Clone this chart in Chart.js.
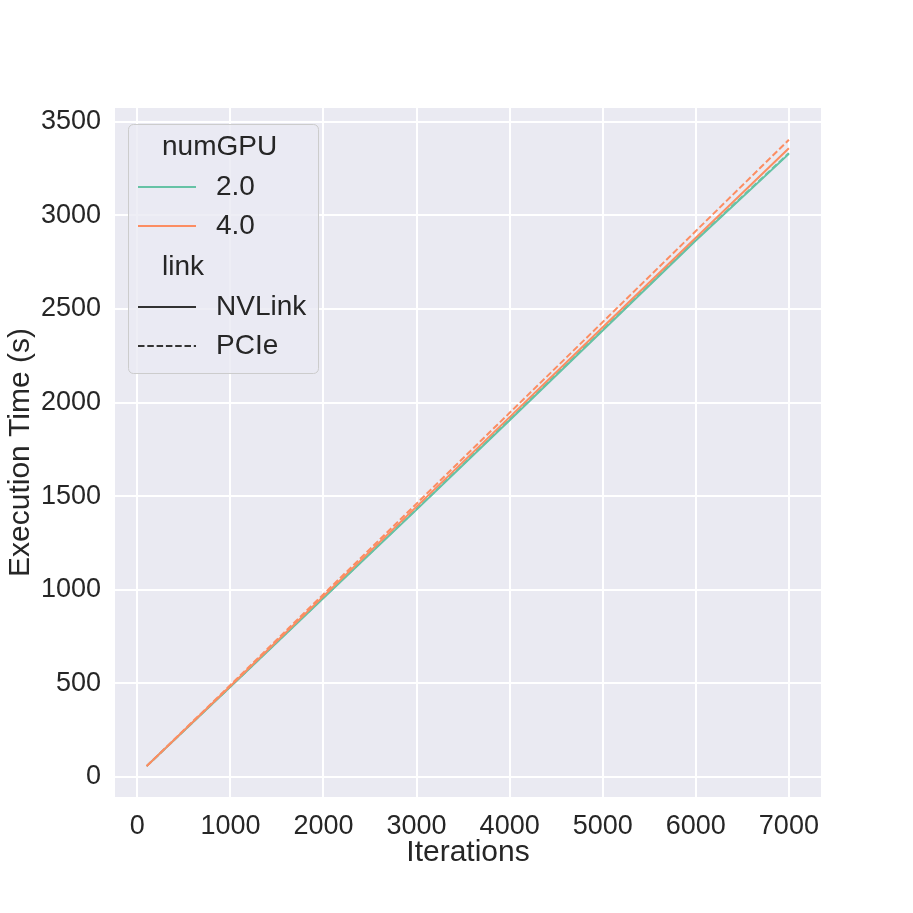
<!DOCTYPE html>
<html>
<head>
<meta charset="utf-8">
<script src="https://cdn.jsdelivr.net/npm/chart.js@4.4.1/dist/chart.umd.min.js"></script>
<style>
  html, body { margin: 0; padding: 0; background: #ffffff; }
  #wrap { width: 913px; height: 913px; }
</style>
</head>
<body>
<div id="wrap"><canvas id="chart" width="913" height="913"></canvas></div>
<script>
// data
const iterations = [100, 1000, 2000, 3000, 4000, 5000, 6000, 7000];
const gpu2NVLink = [58, 482, 956, 1428, 1905, 2385, 2865, 3328];
const gpu2PCIe   = [58, 483, 958, 1431, 1909, 2389, 2869, 3332];
const gpu4NVLink = [58, 486, 966, 1444, 1922, 2402, 2880, 3358];
const gpu4PCIe   = [58, 491, 976, 1460, 1945, 2430, 2916, 3403];

const xTicks = [0, 1000, 2000, 3000, 4000, 5000, 6000, 7000];
const yTicks = [0, 500, 1000, 1500, 2000, 2500, 3000, 3500];

const gpuLabels = ['2.0', '4.0'];
const linkLabels = ['NVLink', 'PCIe'];

const GREEN = '#66c2a5';
const ORANGE = '#fc8d62';
const TEXT = '#262626';
const FONT = "'Liberation Sans', Arial, sans-serif";
const DASH = [6.5, 2.8];

function pts(ys) {
  return iterations.map((x, i) => ({ x: x, y: ys[i] }));
}

const plotBackground = {
  id: 'plotBackground',
  beforeDraw(chart) {
    const { ctx, chartArea: a } = chart;
    ctx.save();
    ctx.fillStyle = '#eaeaf2';
    ctx.fillRect(a.left, a.top, a.right - a.left, a.bottom - a.top);
    ctx.restore();
  }
};

// seaborn style legend with two sub headers
const legendBox = {
  id: 'legendBox',
  afterDraw(chart) {
    const ctx = chart.ctx;
    ctx.save();
    ctx.beginPath();
    ctx.roundRect(128.5, 124.5, 190, 249, 5);
    ctx.fillStyle = 'rgba(234,234,242,0.8)';
    ctx.fill();
    ctx.strokeStyle = '#cccccc';
    ctx.lineWidth = 1;
    ctx.stroke();

    ctx.font = '28px ' + FONT;
    ctx.fillStyle = TEXT;
    ctx.textBaseline = 'middle';
    ctx.textAlign = 'left';

    const rows = [
      { text: 'numGPU', y: 147, header: true },
      { text: gpuLabels[0], y: 187, color: GREEN, dash: [] },
      { text: gpuLabels[1], y: 226, color: ORANGE, dash: [] },
      { text: 'link', y: 267, header: true },
      { text: linkLabels[0], y: 307, color: '#333333', dash: [] },
      { text: linkLabels[1], y: 346, color: '#333333', dash: DASH }
    ];
    rows.forEach(r => {
      if (r.header) {
        ctx.fillText(r.text, 162, r.y);
        return;
      }
      ctx.beginPath();
      ctx.setLineDash(r.dash);
      ctx.strokeStyle = r.color;
      ctx.lineWidth = 2;
      ctx.moveTo(138, r.y);
      ctx.lineTo(196, r.y);
      ctx.stroke();
      ctx.setLineDash([]);
      ctx.fillText(r.text, 216, r.y);
    });
    ctx.restore();
  }
};

new Chart(document.getElementById('chart'), {
  type: 'line',
  data: {
    datasets: [
      { label: '2.0 NVLink', data: pts(gpu2NVLink), borderColor: GREEN, order: 4 },
      { label: '2.0 PCIe', data: pts(gpu2PCIe), borderColor: GREEN, borderDash: DASH, order: 3 },
      { label: '4.0 NVLink', data: pts(gpu4NVLink), borderColor: ORANGE, order: 2 },
      { label: '4.0 PCIe', data: pts(gpu4PCIe), borderColor: ORANGE, borderDash: DASH, order: 1 }
    ]
  },
  options: {
    responsive: false,
    animation: false,
    devicePixelRatio: 1,
    layout: { padding: { left: 0, top: 108, right: 92, bottom: 42 } },
    elements: {
      point: { radius: 0 },
      line: { borderWidth: 2, tension: 0, fill: false }
    },
    plugins: {
      legend: { display: false },
      tooltip: { enabled: false }
    },
    scales: {
      x: {
        type: 'linear',
        min: -240,
        max: 7345,
        afterBuildTicks: s => { s.ticks = xTicks.map(v => ({ value: v })); },
        afterFit: s => { s.height = 74; },
        grid: { color: '#ffffff', lineWidth: 2, drawTicks: false },
        border: { display: false },
        ticks: {
          padding: 13,
          color: TEXT,
          font: { family: FONT, size: 27 },
          callback: v => String(v)
        },
        title: {
          display: true,
          text: 'Iterations',
          color: TEXT,
          font: { family: FONT, size: 30 },
          padding: { top: 0, bottom: 0 }
        }
      },
      y: {
        type: 'linear',
        min: -107,
        max: 3573,
        afterBuildTicks: s => { s.ticks = yTicks.map(v => ({ value: v })); },
        afterFit: s => { s.width = 115; },
        grid: { color: '#ffffff', lineWidth: 2, drawTicks: false },
        border: { display: false },
        ticks: {
          padding: 14,
          color: TEXT,
          font: { family: FONT, size: 27 },
          callback: v => String(v)
        },
        title: {
          display: true,
          text: 'Execution Time (s)',
          color: TEXT,
          font: { family: FONT, size: 30 },
          padding: { top: 3, bottom: 0 }
        }
      }
    }
  },
  plugins: [plotBackground, legendBox]
});
</script>
</body>
</html>
